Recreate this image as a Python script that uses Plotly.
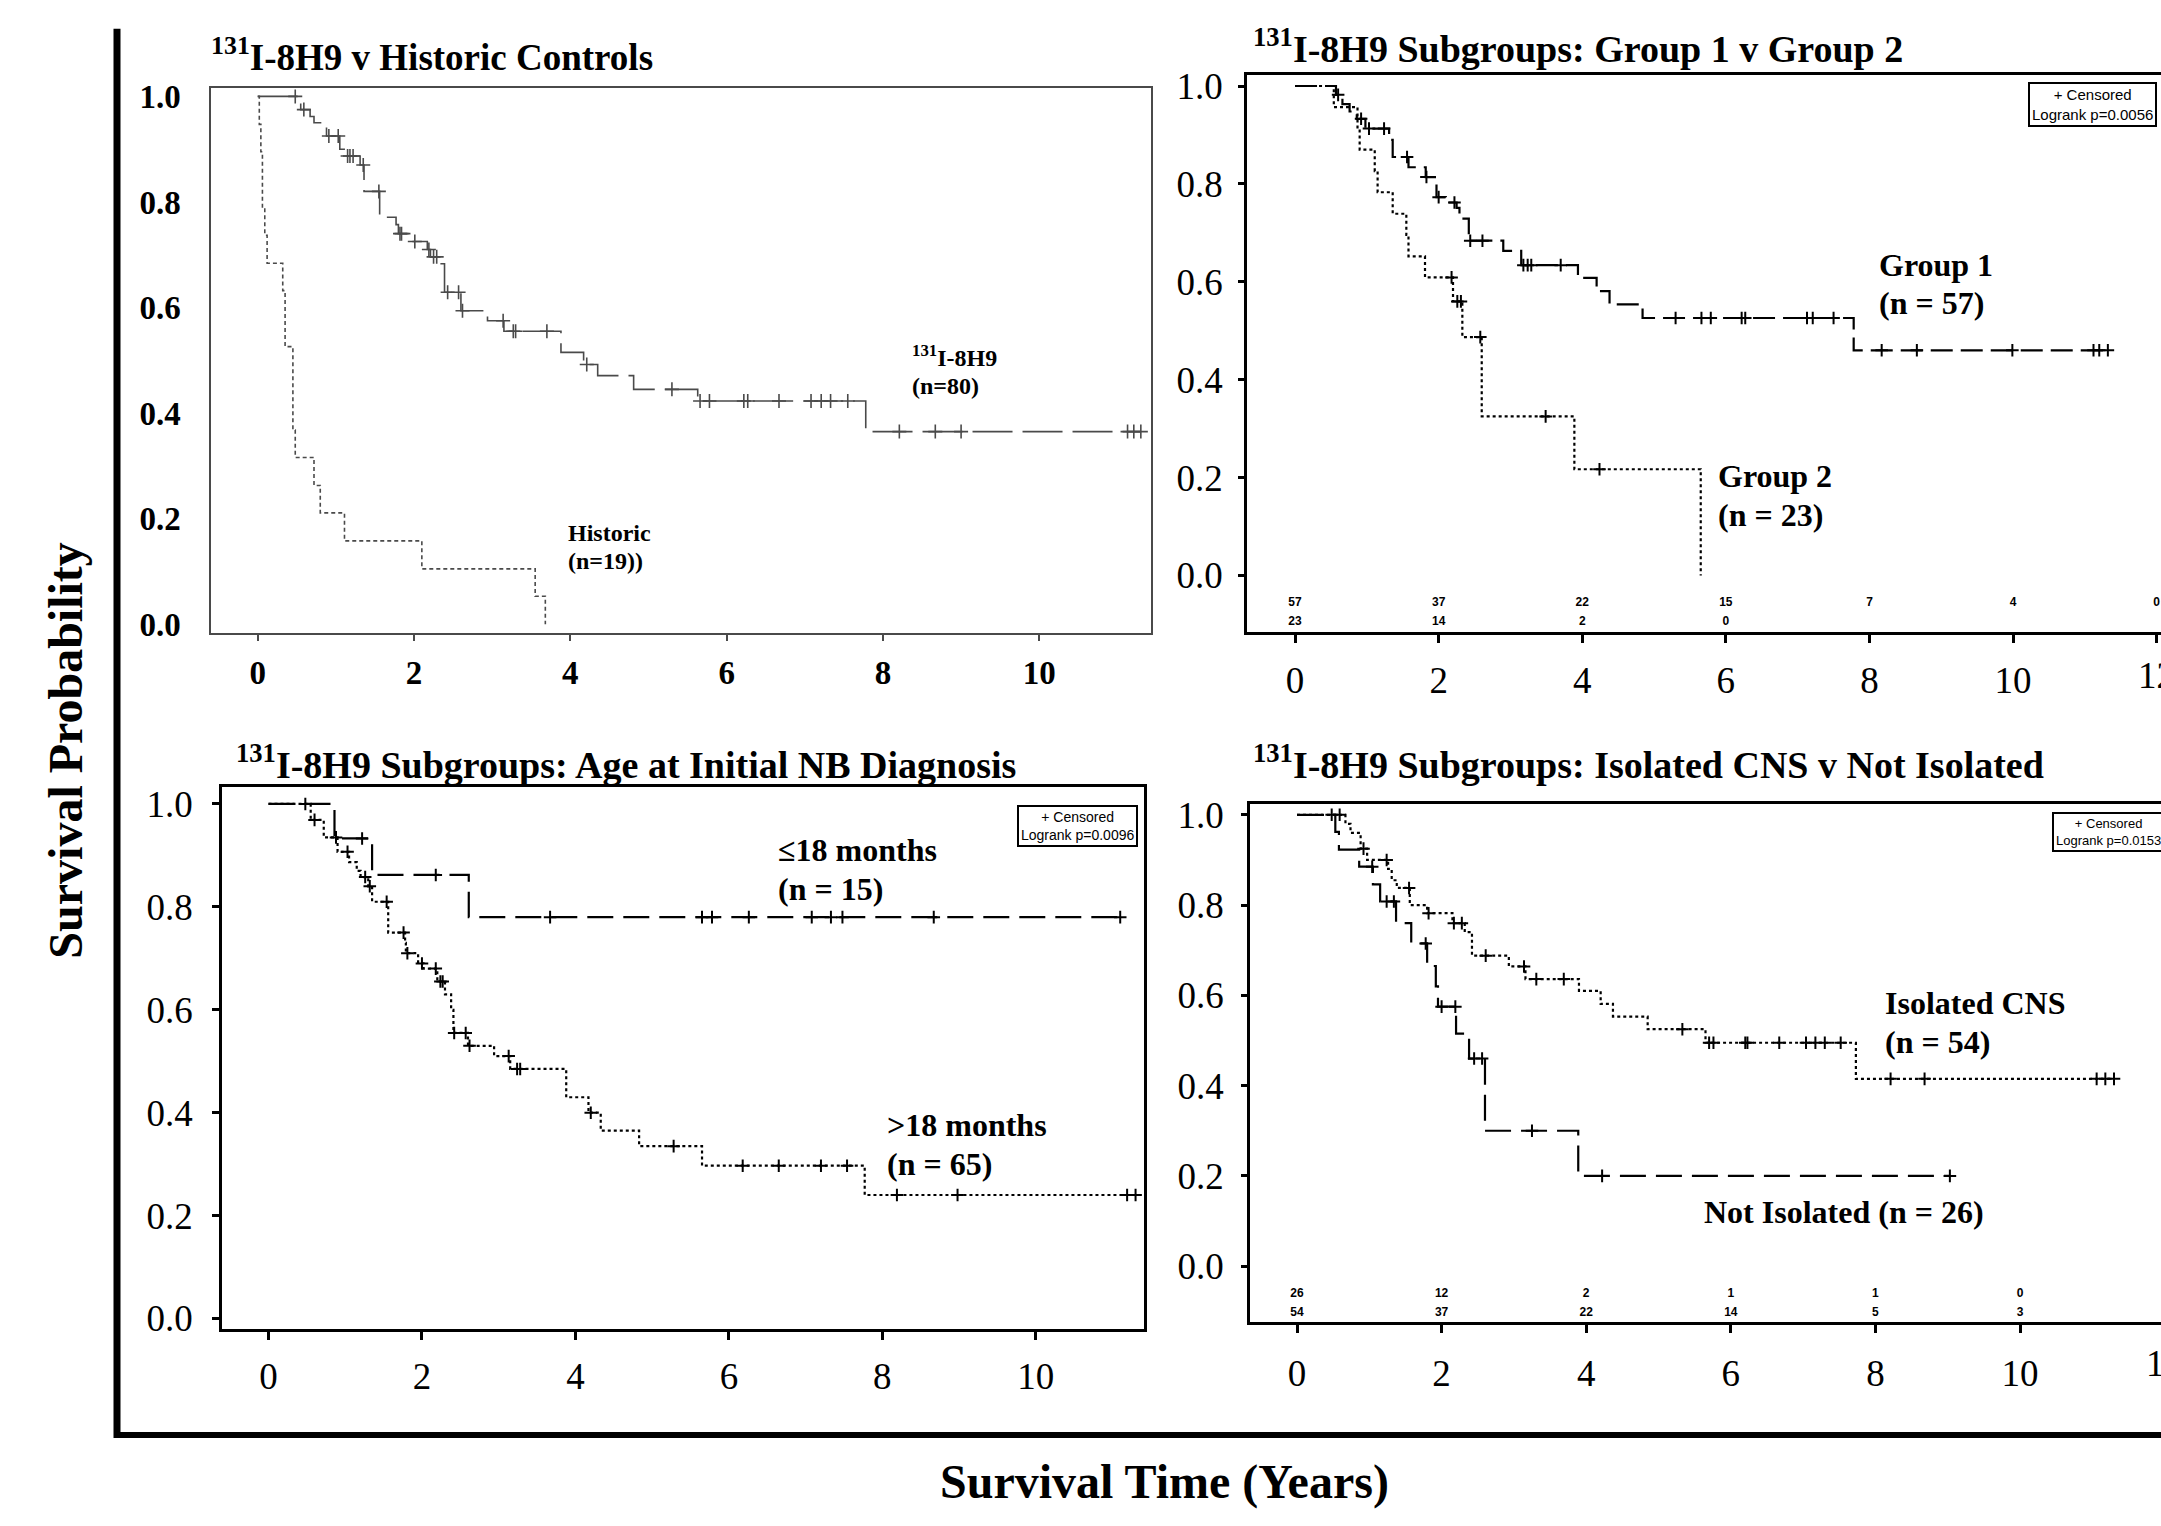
import plotly.graph_objects as go

W, H = 2161, 1526
SERIF = "Liberation Serif"
SANS = "Liberation Sans"

# ---------------- Panel 1: 131I-8H9 v Historic Controls ----------------
p1_8h9_times = [0, 0.50, 0.55, 0.67, 0.72, 0.88, 1.05, 1.12, 1.31, 1.36, 1.56, 1.77, 1.80,
                1.99, 2.17, 2.21, 2.32, 2.39, 2.60, 2.94, 3.15, 3.88, 4.17, 4.35, 4.81, 5.63, 7.78]
p1_8h9_surv = [1.0, 0.987, 0.975, 0.962, 0.950, 0.925, 0.900, 0.887, 0.870, 0.820, 0.771, 0.757,
               0.740, 0.725, 0.710, 0.696, 0.683, 0.629, 0.594, 0.575, 0.555, 0.515, 0.492, 0.471,
               0.445, 0.423, 0.365]
p1_8h9_end = 11.30
p1_8h9_censored = [0.48, 0.59, 0.91, 1.03, 1.15, 1.18, 1.22, 1.35, 1.55, 1.82, 1.84, 2.01, 2.19,
                   2.25, 2.29, 2.43, 2.57, 2.62, 3.14, 3.27, 3.30, 3.70, 4.21, 5.30, 5.66, 5.78,
                   6.22, 6.27, 6.67, 7.08, 7.21, 7.33, 7.55, 8.21, 8.67, 9.00, 11.13, 11.21, 11.30]
p1_hist_times = [0, 0.02, 0.04, 0.06, 0.09, 0.12, 0.32, 0.35, 0.45, 0.48, 0.72, 0.80, 1.11,
                 2.10, 3.55, 3.68]
p1_hist_surv = [1.0, 0.947, 0.895, 0.789, 0.737, 0.684, 0.632, 0.526, 0.368, 0.316, 0.263,
                0.211, 0.158, 0.105, 0.053, 0.0]
p1_hist_end = 3.68

# ---------------- Panel 2: Group 1 v Group 2 ----------------
g1_times = [0, 0.57, 0.66, 0.76, 0.86, 0.98, 1.31, 1.36, 1.58, 1.82, 1.97, 2.10, 2.25, 2.29,
            2.42, 2.90, 3.15, 3.94, 4.20, 4.38, 4.84, 7.78]
g1_surv = [1.0, 0.982, 0.963, 0.948, 0.933, 0.913, 0.890, 0.855, 0.834, 0.814, 0.773, 0.762,
           0.751, 0.729, 0.684, 0.663, 0.634, 0.608, 0.581, 0.554, 0.526, 0.460]
g1_end = 11.35
g1_censored = [0.60, 0.92, 1.03, 1.24, 1.56, 1.83, 2.00, 2.22, 2.44, 2.61, 3.18, 3.24, 3.29,
               3.70, 5.30, 5.66, 5.79, 6.22, 6.27, 7.13, 7.21, 7.50, 8.17, 8.66, 9.99, 11.12,
               11.20, 11.32]
g2_times = [0, 0.54, 0.87, 0.90, 1.11, 1.15, 1.36, 1.55, 1.58, 1.81, 2.20, 2.33, 2.60, 3.89, 5.65]
g2_surv = [1.0, 0.957, 0.913, 0.870, 0.826, 0.783, 0.739, 0.696, 0.652, 0.609, 0.560, 0.487,
           0.325, 0.217, 0.0]
g2_end = 5.65
g2_censored = [2.18, 2.26, 2.31, 2.58, 3.49, 4.24]
p2_risk_times = [0, 2, 4, 6, 8, 10, 12]
g1_at_risk = [57, 37, 22, 15, 7, 4, 0]
g2_at_risk = [23, 14, 2, 0]

# ---------------- Panel 3: Age at initial NB diagnosis ----------------
le18_times = [0, 0.86, 1.35, 2.61]
le18_surv = [1.0, 0.933, 0.862, 0.780]
le18_end = 11.10
le18_censored = [0.48, 1.22, 2.18, 3.67, 5.65, 5.78, 6.26, 7.08, 7.33, 7.48, 8.67, 11.10]
gt18_times = [0, 0.55, 0.72, 0.90, 1.05, 1.15, 1.20, 1.30, 1.35, 1.56, 1.78, 1.79, 1.95, 2.02,
              2.20, 2.30, 2.38, 2.41, 2.60, 2.94, 3.15, 3.88, 4.17, 4.33, 4.83, 5.65, 7.77]
gt18_surv = [1.0, 0.969, 0.935, 0.907, 0.887, 0.870, 0.858, 0.840, 0.810, 0.750, 0.730, 0.710,
             0.690, 0.680, 0.655, 0.630, 0.600, 0.555, 0.530, 0.510, 0.485, 0.430, 0.400,
             0.365, 0.335, 0.297, 0.240]
gt18_end = 11.30
gt18_censored = [0.60, 0.88, 1.03, 1.26, 1.32, 1.54, 1.76, 1.81, 2.00, 2.18, 2.24, 2.27, 2.42,
                 2.57, 2.62, 3.13, 3.24, 3.28, 4.20, 5.28, 6.18, 6.65, 7.20, 7.54, 8.19, 8.98,
                 11.19, 11.30]

# ---------------- Panel 4: Isolated CNS v Not Isolated ----------------
ni_times = [0, 0.53, 0.58, 0.86, 1.05, 1.15, 1.37, 1.58, 1.80, 1.92, 1.95, 2.20, 2.38, 2.60, 3.89]
ni_surv = [1.0, 0.962, 0.923, 0.885, 0.846, 0.808, 0.760, 0.715, 0.665, 0.620, 0.575, 0.515,
           0.460, 0.300, 0.200]
ni_end = 9.03
ni_censored = [1.04, 1.24, 1.34, 1.78, 2.00, 2.19, 2.45, 2.56, 3.25, 4.22, 9.03]
ic_times = [0, 0.67, 0.74, 0.88, 0.97, 1.26, 1.31, 1.38, 1.56, 1.80, 2.15, 2.32, 2.42, 2.93,
            3.16, 3.90, 4.20, 4.37, 4.85, 5.65, 7.73]
ic_surv = [1.0, 0.980, 0.960, 0.925, 0.900, 0.880, 0.855, 0.838, 0.800, 0.782, 0.760, 0.740,
           0.688, 0.664, 0.636, 0.610, 0.581, 0.553, 0.525, 0.495, 0.415]
ic_end = 11.30
ic_censored = [0.48, 0.59, 0.92, 1.24, 1.55, 1.82, 2.17, 2.28, 2.61, 3.14, 3.31, 3.69, 5.33,
               5.70, 5.76, 6.20, 6.23, 6.67, 7.04, 7.17, 7.30, 7.52, 8.21, 8.68, 11.06, 11.18,
               11.30]
p4_risk_times = [0, 2, 4, 6, 8, 10]
ni_at_risk = [26, 12, 2, 1, 1, 0]
ic_at_risk = [54, 37, 22, 14, 5, 3]

y_ticks = [0.0, 0.2, 0.4, 0.6, 0.8, 1.0]
x_ticks_10 = [0, 2, 4, 6, 8, 10]
x_ticks_12 = [0, 2, 4, 6, 8, 10, 12]
edge_tick = 12

fig = go.Figure()


def surv_at(tc, times, surv):
    v = surv[0]
    for ti, si in zip(times, surv):
        if ti <= tc:
            v = si
        else:
            break
    return v


def add_km(times, surv, end, censored, n, color, width, dash, msize, mwidth):
    xa, ya = ("x", "y") if n == 1 else ("x%d" % n, "y%d" % n)
    fig.add_trace(go.Scatter(
        x=list(times) + [end], y=list(surv) + [surv[-1]], mode="lines",
        line=dict(shape="hv", color=color, width=width, dash=dash),
        xaxis=xa, yaxis=ya, showlegend=False, hoverinfo="skip"))
    if censored:
        fig.add_trace(go.Scatter(
            x=censored, y=[surv_at(c, times, surv) for c in censored], mode="markers",
            marker=dict(symbol="cross-thin", size=msize, color=color,
                        line=dict(color=color, width=mwidth)),
            xaxis=xa, yaxis=ya, showlegend=False, hoverinfo="skip"))


def add_risk(times, counts, yval, n):
    fig.add_trace(go.Scatter(
        x=times[:len(counts)], y=[yval] * len(counts), mode="text",
        text=[str(c) for c in counts],
        textfont=dict(family=SANS, size=12, color="black", weight="bold"),
        xaxis="x%d" % n, yaxis="y%d" % n, showlegend=False, hoverinfo="skip"))


GRAY = "#4a4a4a"
add_km(p1_hist_times, p1_hist_surv, p1_hist_end, [], 1, GRAY, 1.6, "4px,3px", 8, 1.5)
add_km(p1_8h9_times, p1_8h9_surv, p1_8h9_end, p1_8h9_censored, 1, GRAY, 1.6, "40px,10px", 10, 1.6)

add_km(g1_times, g1_surv, g1_end, g1_censored, 2, "black", 2.2, "22px,8px", 9, 2)
add_km(g2_times, g2_surv, g2_end, g2_censored, 2, "black", 2.2, "3px,3px", 9, 2)
add_risk(p2_risk_times, g1_at_risk, -0.057, 2)
add_risk(p2_risk_times, g2_at_risk, -0.096, 2)

add_km(le18_times, le18_surv, le18_end, le18_censored, 3, "black", 2.2, "26px,10px", 9, 2)
add_km(gt18_times, gt18_surv, gt18_end, gt18_censored, 3, "black", 2.2, "3px,3px", 9, 2)

add_km(ni_times, ni_surv, ni_end, ni_censored, 4, "black", 2.2, "26px,10px", 9, 2)
add_km(ic_times, ic_surv, ic_end, ic_censored, 4, "black", 2.2, "3px,3px", 9, 2)
add_risk(p4_risk_times, ni_at_risk, -0.061, 4)
add_risk(p4_risk_times, ic_at_risk, -0.103, 4)


def px(x):
    return x / W


def py(y):
    return 1 - y / H


def axis_x(domain, rng, anchor, tickvals, font, linecolor, lw, mirror, standoff, ticklen):
    return dict(domain=domain, range=rng, anchor=anchor, tickvals=tickvals,
                ticks="outside", ticklen=ticklen, tickwidth=lw, tickcolor=linecolor,
                showline=True, linecolor=linecolor, linewidth=lw, mirror=mirror,
                showgrid=False, zeroline=False, tickfont=font, ticklabelstandoff=standoff)


def axis_y(domain, rng, anchor, font, linecolor, lw, mirror, standoff, ticks, ticklen):
    return dict(domain=domain, range=rng, anchor=anchor, tickvals=y_ticks, tickformat=".1f",
                ticks=ticks, ticklen=ticklen, tickwidth=lw, tickcolor=linecolor,
                showline=True, linecolor=linecolor, linewidth=lw, mirror=mirror,
                showgrid=False, zeroline=False, tickfont=font, ticklabelstandoff=standoff)


f1 = dict(family=SERIF, size=33, color="black", weight="bold")
f2 = dict(family=SERIF, size=37, color="black")

layout = dict(
    width=W, height=H, margin=dict(l=0, r=0, t=0, b=0),
    paper_bgcolor="white", plot_bgcolor="white",
    font=dict(family=SERIF, color="black"),
    xaxis=axis_x([px(211), px(1151)], [-0.598, 11.43], "y", x_ticks_10, f1, GRAY, 1.5, True, 4, 6),
    yaxis=axis_y([py(632), py(80)], [-0.0168, 1.0159], "x", f1, GRAY, 1.5, True, 22, "", 0),
    xaxis2=axis_x([px(1247), 1.0], [-0.669, 12.06], "y2", x_ticks_12, f2, "black", 2.5, True, 6, 8),
    yaxis2=axis_y([py(631), py(66.5)], [-0.1158, 1.0232], "x2", f2, "black", 2.5, False, 8, "outside", 6),
    xaxis3=axis_x([px(222), px(1144)], [-0.606, 11.41], "y3", x_ticks_10, f2, "black", 2.5, True, 4, 8),
    yaxis3=axis_y([py(1337), py(788)], [-0.0211, 1.0326], "x3", f2, "black", 2.5, True, 12, "outside", 7),
    xaxis4=axis_x([px(1250), 1.0], [-0.65, 11.95], "y4", x_ticks_12, f2, "black", 2.5, True, 8, 8),
    yaxis4=axis_y([py(1330), py(805)], [-0.1247, 1.024], "x4", f2, "black", 2.5, False, 10, "outside", 6),
)
fig.update_layout(**layout)

ann = []


def title(text, x, y, size):
    ann.append(dict(text="<b>%s</b>" % text, x=px(x), y=py(y), xref="paper", yref="paper",
                    xanchor="left", yanchor="middle", showarrow=False,
                    font=dict(family=SERIF, size=size, color="black")))


title("<sup>131</sup>I-8H9 v Historic Controls", 209, 46, 37)
title("<sup>131</sup>I-8H9 Subgroups: Group 1 v Group 2", 1251, 37, 38)
title("<sup>131</sup>I-8H9 Subgroups: Age at Initial NB Diagnosis", 234, 762, 38)
title("<sup>131</sup>I-8H9 Subgroups: Isolated CNS v Not Isolated", 1251, 762, 38)


def label(text, x, y, n, size):
    xa, ya = ("x", "y") if n == 1 else ("x%d" % n, "y%d" % n)
    ann.append(dict(text="<b>%s</b>" % text, x=x, y=y, xref=xa, yref=ya, xanchor="left",
                    yanchor="middle", showarrow=False,
                    font=dict(family=SERIF, size=size, color="black")))


label("<sup>131</sup>I-8H9", 8.35, 0.509, 1, 24)
label("(n=80)", 8.35, 0.451, 1, 24)
label("Historic", 3.94, 0.173, 1, 24)
label("(n=19))", 3.94, 0.119, 1, 24)
label("Group 1", 8.11, 0.635, 2, 32)
label("(n = 57)", 8.11, 0.557, 2, 32)
label("Group 2", 5.86, 0.204, 2, 32)
label("(n = 23)", 5.86, 0.123, 2, 32)
label("≤18 months", 6.61, 0.911, 3, 32)
label("(n = 15)", 6.61, 0.834, 3, 32)
label("&gt;18 months", 8.03, 0.376, 3, 32)
label("(n = 65)", 8.03, 0.300, 3, 32)
label("Isolated CNS", 8.11, 0.584, 4, 32)
label("(n = 54)", 8.11, 0.497, 4, 32)
label("Not Isolated (n = 26)", 5.60, 0.120, 4, 32)

# tick label "12" at the right edge of the two right-hand panels (cut by the page edge)
ann.append(dict(text=str(edge_tick), x=edge_tick, y=py(675), xref="x2", yref="paper",
                xanchor="center", yanchor="middle", showarrow=False,
                font=dict(family=SERIF, size=37, color="black")))
ann.append(dict(text=str(edge_tick), x=px(1297 + edge_tick * 72.3), y=py(1372), xref="paper",
                yref="paper", xanchor="center", yanchor="middle", showarrow=False,
                font=dict(family=SERIF, size=37, color="black")))


def key_box(text, x, y, xanchor, size):
    ann.append(dict(text=text, x=px(x), y=py(y), xref="paper", yref="paper",
                    xanchor=xanchor, yanchor="top", showarrow=False, align="center",
                    bordercolor="black", borderwidth=2, borderpad=2, bgcolor="white",
                    font=dict(family=SANS, size=size, color="black")))


key_box("+ Censored<br>Logrank p=0.0056", 2157, 74, "right", 15)
key_box("+ Censored<br>Logrank p=0.0096", 1138, 806, "right", 14)
key_box("+ Censored<br>Logrank p=0.0153", 2052, 813, "left", 13)

ann.append(dict(text="<b>Survival Probability</b>", x=px(66), y=py(751), xref="paper",
                yref="paper", textangle=-90, showarrow=False, xanchor="center", yanchor="middle",
                font=dict(family=SERIF, size=48, color="black")))
ann.append(dict(text="<b>Survival Time (Years)</b>", x=px(1164), y=py(1492), xref="paper",
                yref="paper", showarrow=False, xanchor="center", yanchor="middle",
                font=dict(family=SERIF, size=48, color="black")))

fig.update_layout(annotations=ann)

fig.add_shape(type="line", xref="paper", yref="paper", x0=px(117), x1=px(117),
              y0=py(20), y1=py(1447), line=dict(color="black", width=7))
fig.add_shape(type="line", xref="paper", yref="paper", x0=px(114), x1=1.0,
              y0=py(1444), y1=py(1444), line=dict(color="black", width=6))

fig.write_html("out.html")
